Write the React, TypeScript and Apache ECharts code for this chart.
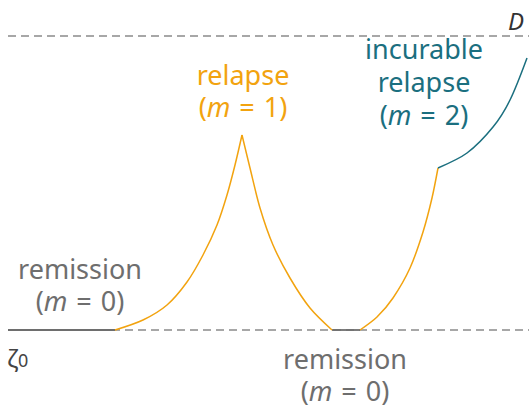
import React, { useEffect, useRef } from "react";
import * as echarts from "echarts";

// x = horizontal position (px units), y = height above baseline ζ0 (D level = 294)
const D_LEVEL = 294;
const X_START = 8;
const X_END = 529;

const remission1: [number, number][] = [[8, 0], [115, 0]];
const relapseRise: [number, number][] = [
  [115, 0], [143, 10], [167, 25], [187, 48], [203, 75], [217, 105], [227, 135], [235, 165], [242, 195],
];
const relapseFall: [number, number][] = [
  [242, 195], [250, 162], [260, 122], [273, 85], [290, 52], [310, 22], [332, 0],
];
const remission2: [number, number][] = [[332, 0], [360, 0]];
const relapseRise2: [number, number][] = [
  [360, 0], [377, 13], [393, 32], [410, 62], [423, 98], [432, 132], [438, 162],
];
const incurable: [number, number][] = [
  [438, 162], [467, 177], [493, 203], [510, 230], [527, 272],
];

const ORANGE = "#F2A30F";
const TEAL = "#1B6F7F";
const GRAY = "#6E6E6E";
const FONT = "Noto Sans";
const SP = "\u2004";

export default function App() {
  const ref = useRef<HTMLDivElement>(null);
  useEffect(() => {
    document.body.style.margin = "0";
    const chart = echarts.init(ref.current!, undefined, { renderer: "svg" });
    const solid = (data: [number, number][], color: string, w = 1.5) => ({
      type: "line",
      data,
      showSymbol: false,
      symbol: "none",
      smooth: 0.3,
      lineStyle: { color, width: w },
      silent: true,
      z: 3,
    });
    const dashed = (y: number) => ({
      type: "line",
      data: [[X_START, y], [X_END, y]],
      symbol: "none",
      lineStyle: { color: "#8A8A8A", width: 1.5, type: [8, 5] },
      silent: true,
      z: 1,
    });
    const rich = (color: string, size: number) => ({
      n: { fontFamily: FONT, fontSize: size, fill: color, color, lineHeight: 28 },
      i: { fontFamily: FONT, fontSize: size, fontStyle: "italic", fill: color, color, lineHeight: 28 },
    });
    const label = (x: number, y: number, text: string, color: string, size = 27) => ({
      type: "text",
      x,
      y,
      silent: true,
      style: {
        text,
        fontFamily: FONT,
        fontSize: size,
        lineHeight: 28,
        fill: color,
        align: "center",
        verticalAlign: "middle",
        rich: rich(color, size),
      },
    });
    const eq = (v: string) => `{n|(}{i|m}{n|${SP}=${SP}${v})}`;
    chart.setOption({
      animation: false,
      grid: { left: 0, right: 0, top: 0, bottom: 0 },
      xAxis: { type: "value", min: 0, max: 529, show: false },
      yAxis: { type: "value", min: -76, max: 330, show: false },
      series: [
        dashed(0),
        dashed(D_LEVEL),
        solid(remission1, GRAY, 1.8),
        solid(remission2, GRAY, 1.8),
        solid(relapseRise, ORANGE),
        solid(relapseFall, ORANGE),
        solid(relapseRise2, ORANGE),
        solid(incurable, TEAL),
      ],
      graphic: [
        label(80, 268, "{n|remission}", GRAY),
        label(80, 300, eq("0"), GRAY),
        label(345, 358, "{n|remission}", GRAY),
        label(345, 390, eq("0"), GRAY),
        label(243, 74, "{n|relapse}", ORANGE),
        label(243, 106, eq("1"), ORANGE),
        label(424, 48, "{n|incurable}", TEAL),
        label(424, 81, "{n|relapse}", TEAL),
        label(424, 114, eq("2"), TEAL),
        label(516, 20, "{i|D}", "#333333", 24),
        {
          type: "text",
          x: 7,
          y: 357,
          silent: true,
          style: {
            text: "{z|ζ}{s|0}",
            fill: "#444",
            align: "left",
            verticalAlign: "middle",
            rich: {
              z: { fontFamily: FONT, fontSize: 24, fill: "#444" },
              s: { fontFamily: FONT, fontSize: 18, fill: "#444", padding: [6, 0, 0, 0] },
            },
          },
        },
      ],
    });
    return () => chart.dispose();
  }, []);
  return <div ref={ref} style={{ width: 529, height: 406 }} />;
}
